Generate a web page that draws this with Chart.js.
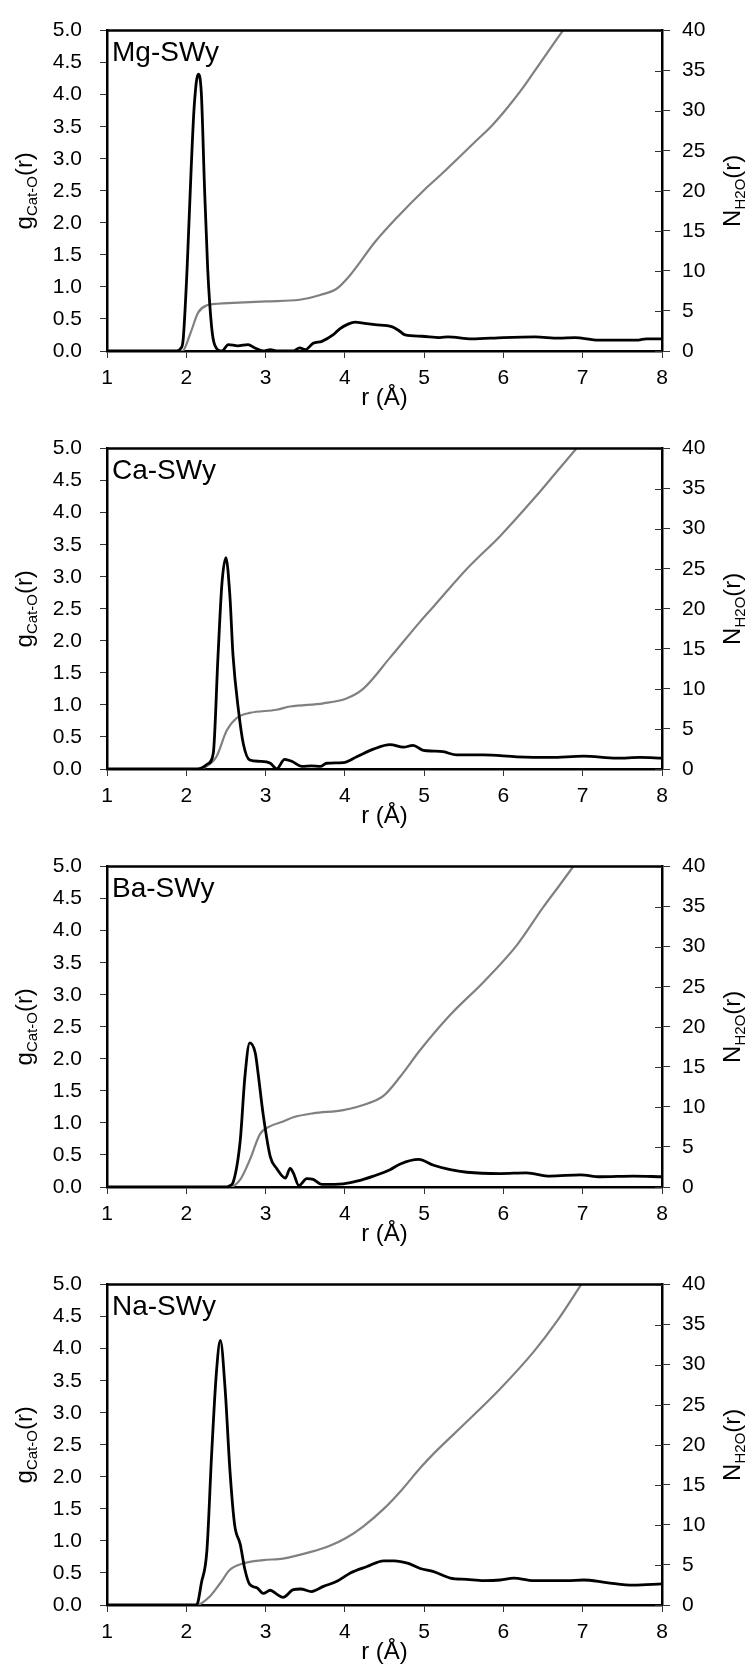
<!DOCTYPE html>
<html>
<head>
<meta charset="utf-8">
<script src="https://cdn.jsdelivr.net/npm/chart.js@4.4.1/dist/chart.umd.min.js"></script>
<style>
  body { margin: 0; background: #fff; }
  .panel { width: 750px; height: 418px; }
</style>
</head>
<body>
<div class="panel"><canvas id="mg" width="750" height="418"></canvas></div>
<div class="panel"><canvas id="ca" width="750" height="418"></canvas></div>
<div class="panel"><canvas id="ba" width="750" height="418"></canvas></div>
<div class="panel"><canvas id="na" width="750" height="418"></canvas></div>
<script>
// g(r) curves (black, left axis) and N(r) curves (grey, right axis)
const mgR = [1, 1.88, 1.93, 1.96, 2.01, 2.06, 2.10, 2.15, 2.19, 2.23, 2.27, 2.32, 2.36, 2.45, 2.53, 2.65, 2.78, 2.86, 2.97, 3.06, 3.15, 3.35, 3.43, 3.5, 3.6, 3.71, 3.85, 3.94, 4.04, 4.13, 4.25, 4.38, 4.59, 4.68, 4.76, 4.97, 5.2, 5.3, 5.6, 6.0, 6.4, 6.7, 6.9, 7.2, 7.5, 7.7, 7.8, 8.0];
const mgG = [0, 0, 0.04, 0.17, 1.28, 2.8, 3.82, 4.32, 4.02, 2.55, 1.28, 0.37, 0.09, 0.0, 0.1, 0.08, 0.1, 0.05, 0.0, 0.02, 0.0, 0.0, 0.05, 0.02, 0.12, 0.15, 0.25, 0.35, 0.42, 0.45, 0.43, 0.41, 0.38, 0.32, 0.25, 0.23, 0.21, 0.22, 0.19, 0.21, 0.22, 0.2, 0.21, 0.17, 0.17, 0.17, 0.19, 0.19];
const mgNR = [1, 1.95, 2.05, 2.15, 2.26, 2.4, 2.59, 3.01, 3.43, 3.69, 3.9, 4.06, 4.38, 4.67, 5.01, 5.22, 5.64, 5.85, 6.06, 6.27, 6.48, 6.75];
const mgN = [0, 0, 2.15, 4.8, 5.7, 5.9, 6.0, 6.2, 6.4, 7.0, 7.8, 9.4, 13.6, 16.8, 20.2, 22.1, 26.1, 28.1, 30.5, 33.2, 36.2, 40];

const caR = [1, 2.14, 2.2, 2.27, 2.34, 2.40, 2.45, 2.50, 2.55, 2.59, 2.66, 2.72, 2.80, 2.93, 3.06, 3.14, 3.24, 3.33, 3.46, 3.58, 3.69, 3.77, 3.98, 4.15, 4.36, 4.57, 4.74, 4.86, 4.99, 5.12, 5.24, 5.41, 5.75, 6.17, 6.59, 7.01, 7.43, 7.72, 8.0];
const caG = [0, 0, 0.02, 0.08, 0.24, 1.76, 2.9, 3.30, 2.7, 1.76, 0.9, 0.39, 0.14, 0.12, 0.09, 0.0, 0.15, 0.12, 0.04, 0.05, 0.04, 0.09, 0.1, 0.19, 0.31, 0.38, 0.34, 0.37, 0.29, 0.28, 0.27, 0.22, 0.22, 0.19, 0.18, 0.2, 0.17, 0.18, 0.17];
const caNR = [1, 2.16, 2.25, 2.38, 2.51, 2.64, 2.80, 3.14, 3.31, 3.73, 4.02, 4.23, 4.57, 4.95, 5.12, 5.54, 5.96, 6.38, 6.68, 6.92];
const caN = [0, 0, 0.3, 1.53, 4.8, 6.4, 7.0, 7.4, 7.8, 8.2, 8.8, 10.0, 13.9, 18.4, 20.3, 25.0, 29.1, 33.7, 37.2, 40];

const baR = [1, 2.51, 2.55, 2.59, 2.68, 2.74, 2.80, 2.87, 2.91, 2.97, 3.06, 3.14, 3.25, 3.31, 3.35, 3.42, 3.52, 3.60, 3.71, 3.98, 4.15, 4.36, 4.57, 4.70, 4.93, 5.12, 5.33, 5.54, 5.96, 6.29, 6.59, 6.97, 7.22, 7.64, 8.0];
const baG = [0, 0, 0.02, 0.07, 0.72, 1.73, 2.25, 2.09, 1.73, 1.13, 0.47, 0.29, 0.14, 0.29, 0.22, 0.02, 0.13, 0.12, 0.04, 0.05, 0.09, 0.17, 0.27, 0.36, 0.43, 0.34, 0.27, 0.23, 0.21, 0.22, 0.17, 0.19, 0.16, 0.17, 0.16];
const baNR = [1, 2.55, 2.68, 2.80, 2.93, 3.06, 3.23, 3.35, 3.60, 3.98, 4.28, 4.49, 4.70, 4.95, 5.33, 5.75, 6.17, 6.50, 6.71, 6.88];
const baN = [0, 0, 0.93, 3.36, 6.6, 7.6, 8.2, 8.7, 9.2, 9.6, 10.4, 11.4, 13.8, 17.1, 21.5, 25.6, 30.2, 34.9, 37.7, 40];

const naR = [1, 2.13, 2.19, 2.26, 2.32, 2.38, 2.43, 2.49, 2.55, 2.61, 2.68, 2.74, 2.80, 2.89, 2.97, 3.06, 3.14, 3.22, 3.35, 3.44, 3.58, 3.73, 3.90, 4.07, 4.28, 4.49, 4.62, 4.80, 4.95, 5.12, 5.33, 5.54, 5.75, 5.96, 6.13, 6.38, 6.80, 7.01, 7.30, 7.64, 8.0];
const naG = [0, 0, 0.34, 0.85, 2.36, 3.63, 4.13, 3.37, 2.11, 1.25, 0.95, 0.55, 0.32, 0.27, 0.18, 0.23, 0.17, 0.12, 0.24, 0.25, 0.21, 0.29, 0.37, 0.5, 0.6, 0.69, 0.69, 0.65, 0.57, 0.52, 0.42, 0.40, 0.38, 0.39, 0.42, 0.38, 0.38, 0.39, 0.35, 0.31, 0.33];
const naNR = [1, 2.13, 2.30, 2.43, 2.55, 2.72, 2.97, 3.22, 3.56, 3.81, 4.02, 4.23, 4.49, 4.72, 4.95, 5.12, 5.54, 5.96, 6.38, 6.68, 6.98];
const naN = [0, 0, 1.1, 2.75, 4.4, 5.2, 5.6, 5.8, 6.6, 7.4, 8.4, 9.8, 12.0, 14.4, 17.1, 18.9, 22.9, 27.0, 31.6, 35.5, 40];

const FONT = '"Liberation Sans", Arial, Helvetica, sans-serif';

function toPoints(xs, ys) {
    return xs.map((x, i) => ({ x: x, y: ys[i] }));
}

// rotated axis title with a subscript, e.g. g_Cat-O(r)
function drawSubTitle(ctx, main, sub, tail, cx, cy) {
    ctx.save();
    ctx.translate(cx, cy);
    ctx.rotate(-Math.PI / 2);
    ctx.fillStyle = '#000';
    ctx.textBaseline = 'alphabetic';
    ctx.textAlign = 'left';
    const big = '24px ' + FONT;
    const small = '15px ' + FONT;
    ctx.font = big;
    const w1 = ctx.measureText(main).width;
    const w3 = ctx.measureText(tail).width;
    ctx.font = small;
    const w2 = ctx.measureText(sub).width;
    let x = -(w1 + w2 + w3) / 2;
    ctx.font = big;
    ctx.fillText(main, x, 7);
    x += w1;
    ctx.font = small;
    ctx.fillText(sub, x, 12);
    x += w2;
    ctx.font = big;
    ctx.fillText(tail, x, 7);
    ctx.restore();
}

const panelDecor = {
    id: 'panelDecor',
    afterDraw(chart, args, opts) {
        const ctx = chart.ctx;
        const a = chart.chartArea;
        ctx.save();
        // top edge of the box
        ctx.strokeStyle = '#000';
        ctx.lineWidth = 2.5;
        ctx.beginPath();
        ctx.moveTo(a.left - 1, a.top);
        ctx.lineTo(a.right + 1, a.top);
        ctx.stroke();
        // right axis ticks cross the axis line
        const y2 = chart.scales.y2;
        ctx.lineWidth = 1;
        ctx.strokeStyle = '#333';
        y2.ticks.forEach(t => {
            const py = Math.round(y2.getPixelForValue(t.value)) + 0.5;
            ctx.beginPath();
            ctx.moveTo(a.right - 7, py);
            ctx.lineTo(a.right, py);
            ctx.stroke();
        });
        // panel name
        ctx.fillStyle = '#000';
        ctx.font = '28px ' + FONT;
        ctx.textAlign = 'left';
        ctx.textBaseline = 'alphabetic';
        ctx.fillText(opts.label, a.left + 5, a.top + 30);
        // x title
        ctx.font = '24px ' + FONT;
        ctx.textAlign = 'center';
        ctx.fillText('r (Å)', (a.left + a.right) / 2, a.bottom + 54);
        ctx.restore();
        const midY = (a.top + a.bottom) / 2;
        drawSubTitle(ctx, 'g', 'Cat-O', '(r)', 25, midY);
        drawSubTitle(ctx, 'N', 'H2O', '(r)', 733, midY);
    }
};

function makePanel(id, label, gR, gVals, nR, nVals) {
    const ctx = document.getElementById(id).getContext('2d');
    return new Chart(ctx, {
        type: 'line',
        data: {
            datasets: [{
                label: 'g',
                data: toPoints(gR, gVals),
                yAxisID: 'y',
                borderColor: '#000',
                borderWidth: 2.8,
                pointRadius: 0,
                cubicInterpolationMode: 'monotone'
            }, {
                label: 'N',
                data: toPoints(nR, nVals),
                yAxisID: 'y2',
                borderColor: '#808080',
                borderWidth: 2.2,
                pointRadius: 0,
                cubicInterpolationMode: 'monotone'
            }]
        },
        options: {
            responsive: false,
            animation: false,
            layout: { padding: { top: 22, left: 0, right: 0, bottom: 0 } },
            plugins: {
                legend: { display: false },
                tooltip: { enabled: false },
                panelDecor: { label: label }
            },
            scales: {
                x: {
                    type: 'linear',
                    position: 'bottom',
                    min: 1,
                    max: 8,
                    ticks: { stepSize: 1, color: '#000', font: { family: FONT, size: 21 }, padding: 8 },
                    grid: { drawOnChartArea: false, tickLength: 7, color: '#333', lineWidth: 1 },
                    border: { color: '#000', width: 2.5 },
                    afterFit: (s) => { s.height = 67; }
                },
                y: {
                    position: 'left',
                    min: 0,
                    max: 5,
                    ticks: {
                        stepSize: 0.5,
                        color: '#000',
                        font: { family: FONT, size: 21 },
                        padding: 18,
                        callback: (v) => v.toFixed(1)
                    },
                    grid: { drawOnChartArea: false, tickLength: 7, color: '#333', lineWidth: 1 },
                    border: { color: '#000', width: 2.5 },
                    afterFit: (s) => { s.width = 107; }
                },
                y2: {
                    position: 'right',
                    min: 0,
                    max: 40,
                    ticks: { stepSize: 5, color: '#000', font: { family: FONT, size: 21 }, padding: 12 },
                    grid: { drawOnChartArea: false, tickLength: 8, color: '#333', lineWidth: 1 },
                    border: { color: '#000', width: 2.5 },
                    afterFit: (s) => { s.width = 88; }
                }
            }
        },
        plugins: [panelDecor]
    });
}

makePanel('mg', 'Mg-SWy', mgR, mgG, mgNR, mgN);
makePanel('ca', 'Ca-SWy', caR, caG, caNR, caN);
makePanel('ba', 'Ba-SWy', baR, baG, baNR, baN);
makePanel('na', 'Na-SWy', naR, naG, naNR, naN);
</script>
</body>
</html>
